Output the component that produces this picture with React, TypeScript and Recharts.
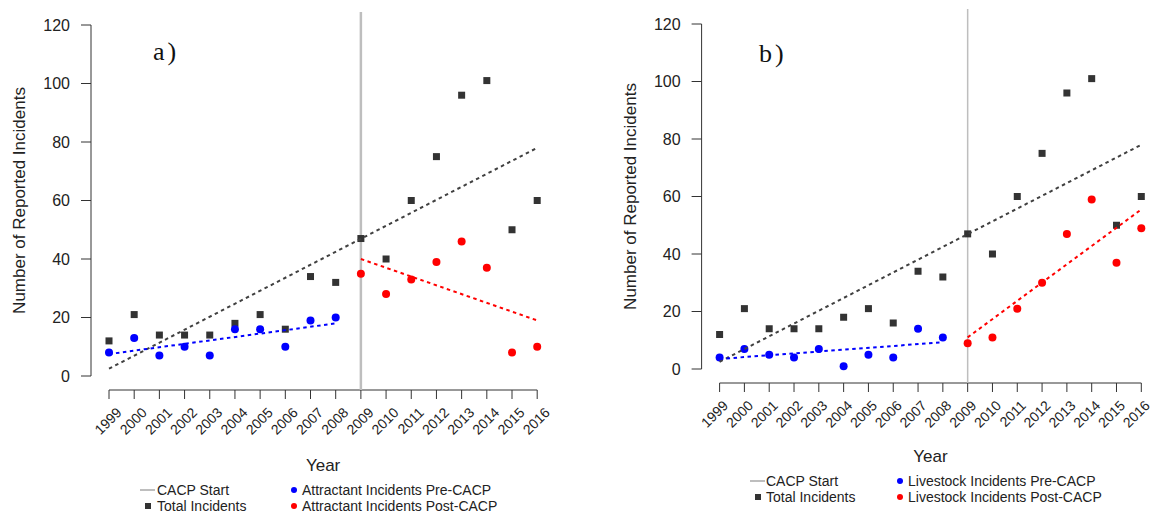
import React from 'react';
import { ScatterChart, Scatter, XAxis, YAxis, ReferenceLine } from 'recharts';

// values
const YEARS = [1999, 2000, 2001, 2002, 2003, 2004, 2005, 2006, 2007, 2008, 2009, 2010, 2011, 2012, 2013, 2014, 2015, 2016];
const PRE_YEARS = [1999, 2000, 2001, 2002, 2003, 2004, 2005, 2006, 2007, 2008];
const POST_YEARS = [2009, 2010, 2011, 2012, 2013, 2014, 2015, 2016];
const Y_TICKS = [0, 20, 40, 60, 80, 100, 120];

const TOTAL = [12, 21, 14, 14, 14, 18, 21, 16, 34, 32, 47, 40, 60, 75, 96, 101, 50, 60];
const ATTRACTANT_PRE = [8, 13, 7, 10, 7, 16, 16, 10, 19, 20];
const ATTRACTANT_POST = [35, 28, 33, 39, 46, 37, 8, 10];
const LIVESTOCK_PRE = [4, 7, 5, 4, 7, 1, 5, 4, 14, 11];
const LIVESTOCK_POST = [9, 11, 21, 30, 47, 59, 37, 49];

// fitted trend lines, endpoints
const TOTAL_TREND_YEARS = [1999, 2016];
const TOTAL_TREND = [2.5, 78];
const PRE_TREND_YEARS = [1999, 2008];
const POST_TREND_YEARS = [2009, 2016];
const ATTRACTANT_PRE_TREND = [7.5, 18];
const ATTRACTANT_POST_TREND = [40, 19];
const LIVESTOCK_PRE_TREND = [3.5, 9.3];
const LIVESTOCK_POST_TREND = [11, 55.5];

const CACP_YEAR = 2009;

const DARK = '#333333';
const BLUE = '#0000ff';
const RED = '#ff0000';
const GREY = '#bebebe';
const FONT = '"Liberation Sans", Arial, Helvetica, sans-serif';
const AXIS_DROP = 14;

const pts = (xs: number[], ys: number[]) => xs.map((year, i) => ({ year, value: ys[i] }));

const Square = (p: any) => <rect x={p.cx - 3.5} y={p.cy - 3.5} width={7} height={7} fill={DARK} />;
const Dot = (color: string) => (p: any) => <circle cx={p.cx} cy={p.cy} r={4} fill={color} />;
const Nothing = () => <g />;

const XTick = (props: any) => {
    const { x, y, payload, shift } = props;
    const ay = y + AXIS_DROP;
    const lx = x + shift;
    const ly = ay + 20;
    return (
        <g>
            <line x1={x} x2={x} y1={ay} y2={ay + 9} stroke={DARK} />
            <text
                x={lx}
                y={ly}
                textAnchor="end"
                dominantBaseline="central"
                transform={`rotate(-45 ${lx} ${ly})`}
                fontSize={14}
                fontFamily={FONT}
                fill="#222"
            >
                {payload.value}
            </text>
        </g>
    );
};

const droppedAxis = (p: any) => (
    <line x1={p.x1} x2={p.x2} y1={p.y1 + AXIS_DROP} y2={p.y2 + AXIS_DROP} stroke={DARK} strokeWidth={1} />
);

interface PanelProps {
    left: number;
    width: number;
    yAxisWidth: number;
    marginRight: number;
    top: number;
    xAxisHeight: number;
    yLabelOffset: number;
    yearOffset: number;
    tickShift: number;
    cacpTop: number;
    cacpWidth: number;
    pre: number[];
    post: number[];
    preTrend: number[];
    postTrend: number[];
}

function Panel(p: PanelProps) {
    const cacpShape = (s: any) => (
        <line
            x1={s.x1}
            x2={s.x2}
            y1={Math.min(s.y1, s.y2) - p.cacpTop}
            y2={Math.max(s.y1, s.y2) + AXIS_DROP}
            stroke={GREY}
            strokeWidth={p.cacpWidth}
        />
    );
    const dash = (color: string) => ({ stroke: color, strokeWidth: 2, strokeDasharray: '3.5 3.5' });

    return (
        <div style={{ position: 'absolute', left: p.left, top: 0 }}>
            <ScatterChart
                width={p.width}
                height={514}
                margin={{ top: p.top, right: p.marginRight, left: 0, bottom: 0 }}
            >
                <XAxis
                    type="number"
                    dataKey="year"
                    domain={[1999, 2016]}
                    ticks={YEARS}
                    interval={0}
                    padding={{ left: 18, right: 0 }}
                    axisLine={false}
                    tickLine={false}
                    tickSize={0}
                    tickMargin={0}
                    height={p.xAxisHeight}
                    tick={<XTick shift={p.tickShift} />}
                    label={{
                        value: 'Year',
                        position: 'insideTop',
                        offset: p.yearOffset,
                        dx: 9,
                        style: { fontSize: 17, fontFamily: FONT, fill: '#222' },
                    }}
                />
                <YAxis
                    type="number"
                    dataKey="value"
                    domain={[0, 120]}
                    ticks={Y_TICKS}
                    interval={0}
                    width={p.yAxisWidth}
                    tickSize={10}
                    tickMargin={11}
                    axisLine={{ stroke: DARK }}
                    tickLine={{ stroke: DARK }}
                    tick={{ fontSize: 16, fontFamily: FONT, fill: '#222' }}
                    label={{
                        value: 'Number of Reported Incidents',
                        angle: -90,
                        position: 'insideLeft',
                        offset: p.yLabelOffset,
                        style: { fontSize: 17, fontFamily: FONT, fill: '#222', textAnchor: 'middle' },
                    }}
                />
                <ReferenceLine segment={[{ x: 1999, y: 0 }, { x: 2016, y: 0 }]} shape={droppedAxis} />
                <Scatter data={pts(YEARS, TOTAL)} shape={Square} fill={DARK} isAnimationActive={false} />
                <Scatter data={pts(PRE_YEARS, p.pre)} shape={Dot(BLUE)} fill={BLUE} isAnimationActive={false} />
                <Scatter data={pts(POST_YEARS, p.post)} shape={Dot(RED)} fill={RED} isAnimationActive={false} />
                <Scatter data={pts(TOTAL_TREND_YEARS, TOTAL_TREND)} line={dash('#404040')} shape={Nothing} isAnimationActive={false} />
                <Scatter data={pts(PRE_TREND_YEARS, p.preTrend)} line={dash(BLUE)} shape={Nothing} isAnimationActive={false} />
                <Scatter data={pts(POST_TREND_YEARS, p.postTrend)} line={dash(RED)} shape={Nothing} isAnimationActive={false} />
                <ReferenceLine x={CACP_YEAR} shape={cacpShape} />
            </ScatterChart>
        </div>
    );
}

function LegendBlock({ lineX, textX, dotX, y1, y2, pre, post }: any) {
    const t = { fontSize: 14, fontFamily: FONT, fill: '#222', dominantBaseline: 'central' as const };
    return (
        <g>
            <line x1={lineX} x2={lineX + 15} y1={y1} y2={y1} stroke={GREY} strokeWidth={2} />
            <text x={textX} y={y1} {...t}>CACP Start</text>
            <rect x={lineX + 5} y={y2 - 3} width={6} height={6} fill={DARK} />
            <text x={textX} y={y2} {...t}>Total Incidents</text>
            <circle cx={dotX} cy={y1} r={3} fill={BLUE} />
            <text x={dotX + 8} y={y1} {...t}>{pre}</text>
            <circle cx={dotX} cy={y2} r={3} fill={RED} />
            <text x={dotX + 8} y={y2} {...t}>{post}</text>
        </g>
    );
}

export default function App() {
    return (
        <div style={{ position: 'absolute', left: 0, top: 0, width: 1155, height: 514, background: '#fff' }}>
            <Panel
                left={0}
                width={580}
                yAxisWidth={91}
                marginRight={42.8}
                top={25}
                xAxisHeight={138}
                yLabelOffset={18.5}
                yearOffset={83}
                tickShift={10}
                cacpTop={13}
                cacpWidth={2.5}
                pre={ATTRACTANT_PRE}
                post={ATTRACTANT_POST}
                preTrend={ATTRACTANT_PRE_TREND}
                postTrend={ATTRACTANT_POST_TREND}
            />
            <Panel
                left={580}
                width={575}
                yAxisWidth={121.6}
                marginRight={13.7}
                top={24}
                xAxisHeight={145}
                yLabelOffset={49.5}
                yearOffset={81}
                tickShift={6}
                cacpTop={15}
                cacpWidth={1.5}
                pre={LIVESTOCK_PRE}
                post={LIVESTOCK_POST}
                preTrend={LIVESTOCK_PRE_TREND}
                postTrend={LIVESTOCK_POST_TREND}
            />
            <svg width={1155} height={514} style={{ position: 'absolute', left: 0, top: 0, pointerEvents: 'none' }}>
                <text x={153} y={60} fontSize={26} fontFamily='"Liberation Serif", "Times New Roman", serif' letterSpacing={3} fill="#111">a)</text>
                <text x={759} y={62} fontSize={26} fontFamily='"Liberation Serif", "Times New Roman", serif' letterSpacing={3} fill="#111">b)</text>
                <LegendBlock lineX={140} textX={157} dotX={294} y1={490} y2={506}
                    pre="Attractant Incidents Pre-CACP" post="Attractant Incidents Post-CACP" />
                <LegendBlock lineX={750} textX={766} dotX={900} y1={481} y2={497}
                    pre="Livestock Incidents Pre-CACP" post="Livestock Incidents Post-CACP" />
            </svg>
        </div>
    );
}
